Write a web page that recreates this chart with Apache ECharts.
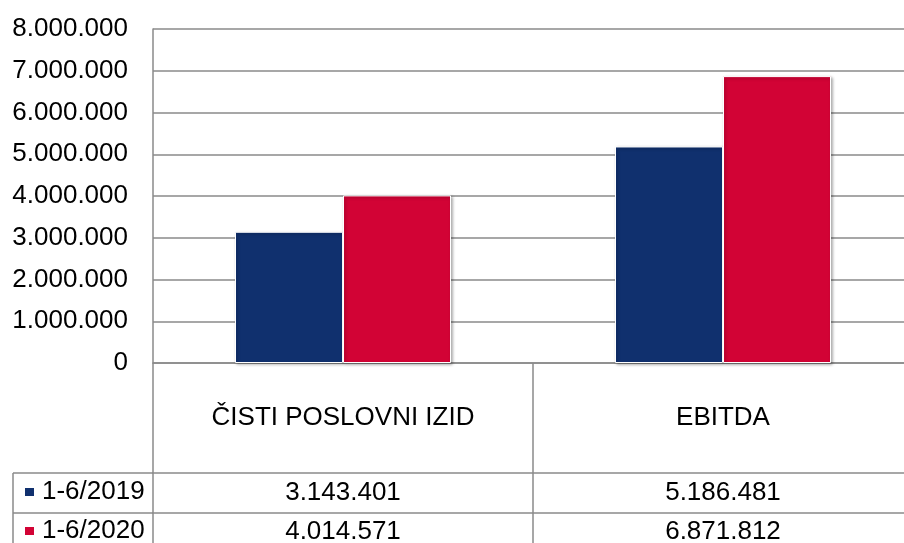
<!DOCTYPE html>
<html>
<head>
<meta charset="utf-8">
<script src="https://cdn.jsdelivr.net/npm/echarts@6/dist/echarts.min.js"></script>
<style>
html,body{margin:0;padding:0;background:#fff;overflow:hidden;}
#c{width:904px;height:543px;}
</style>
</head>
<body>
<div id="c"></div>
<script>
const categories = ['ČISTI POSLOVNI IZID', 'EBITDA'];
const seriesNames = ['1-6/2019', '1-6/2020'];
const values2019 = [3143401, 5186481];
const values2020 = [4014571, 6871812];
const yMin = 0, yMax = 8000000, yStep = 1000000;

function fmt(n) {
  return String(n).replace(/\B(?=(\d{3})+(?!\d))/g, '.');
}

const FONT = '"Liberation Sans", Arial, sans-serif';
const FS = 26;
const GRID_COLOR = '#8a8a8a';
const BLUE = '#10306e';
const RED = '#d20335';

const chart = echarts.init(document.getElementById('c'));
const barStyle = (color) => ({
  color: color,
  borderColor: '#ffffff',
  borderWidth: 1,
  shadowBlur: 3,
  shadowColor: 'rgba(0,0,0,0.35)',
  shadowOffsetX: 1.5,
  shadowOffsetY: 1.5
});

chart.setOption({
  animation: false,
  backgroundColor: '#ffffff',
  textStyle: { fontFamily: FONT },
  grid: { left: 153, top: 29, width: 760, height: 334, containLabel: false, outerBoundsMode: 'none' },
  legend: {
    orient: 'vertical',
    left: 23,
    top: 477,
    width: 130,
    height: 100,
    padding: 0,
    itemWidth: 11,
    itemHeight: 10,
    itemGap: 9,
    icon: 'rect',
    textStyle: { fontFamily: FONT, fontSize: FS, lineHeight: 30, color: '#000', padding: [0, 0, 0, 2] },
    data: seriesNames
  },
  xAxis: [
    {
      type: 'category',
      data: categories,
      position: 'bottom',
      axisLine: { show: true, lineStyle: { color: GRID_COLOR, width: 1.5 } },
      axisTick: { show: true, interval: 0, alignWithLabel: false, length: 180, lineStyle: { color: GRID_COLOR, width: 1.5 } },
      axisLabel: { interval: 0, margin: 40, fontSize: FS, lineHeight: 30, color: '#000', fontFamily: FONT },
      splitLine: { show: false }
    },
    {
      type: 'category',
      data: categories,
      position: 'bottom',
      offset: 110,
      axisLine: { show: true, lineStyle: { color: GRID_COLOR, width: 1.5 } },
      axisTick: { show: false },
      axisLabel: { interval: 0, margin: 5, fontSize: FS, lineHeight: 30, color: '#000', fontFamily: FONT,
        formatter: (v, i) => fmt(values2019[i]) },
      splitLine: { show: false }
    },
    {
      type: 'category',
      data: categories,
      position: 'bottom',
      offset: 150,
      axisLine: { show: true, lineStyle: { color: GRID_COLOR, width: 1.5 } },
      axisTick: { show: false },
      axisLabel: { interval: 0, margin: 4, fontSize: FS, lineHeight: 30, color: '#000', fontFamily: FONT,
        formatter: (v, i) => fmt(values2020[i]) },
      splitLine: { show: false }
    }
  ],
  yAxis: {
    type: 'value',
    min: yMin,
    max: yMax,
    interval: yStep,
    axisLine: { show: true, lineStyle: { color: GRID_COLOR, width: 1.5 } },
    axisTick: { show: false },
    axisLabel: { margin: 25, fontSize: FS, color: '#000', fontFamily: FONT, formatter: (v) => fmt(v) },
    splitLine: { show: true, lineStyle: { color: GRID_COLOR, width: 1.5 } }
  },
  series: [
    {
      name: seriesNames[0],
      type: 'bar',
      data: values2019,
      barWidth: 108,
      barGap: '0%',
      itemStyle: barStyle(BLUE)
    },
    {
      name: seriesNames[1],
      type: 'bar',
      data: values2020,
      barWidth: 108,
      barGap: '0%',
      itemStyle: barStyle(RED)
    }
  ],
  graphic: [
    { type: 'line', shape: { x1: 13, y1: 473, x2: 153, y2: 473 }, style: { stroke: GRID_COLOR, lineWidth: 1.5 } },
    { type: 'line', shape: { x1: 13, y1: 513, x2: 153, y2: 513 }, style: { stroke: GRID_COLOR, lineWidth: 1.5 } },
    { type: 'line', shape: { x1: 13, y1: 473, x2: 13, y2: 543 }, style: { stroke: GRID_COLOR, lineWidth: 1.5 } }
  ]
});
</script>
</body>
</html>
